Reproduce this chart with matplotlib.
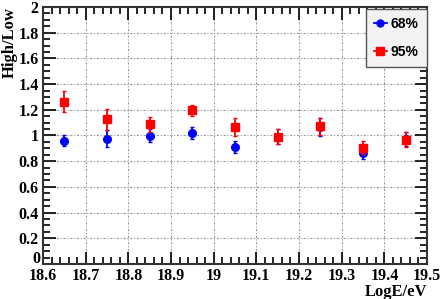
#! /usr/bin/env python3

import numpy as np
from matplotlib import pylab as plt
from matplotlib.lines import Line2D
from matplotlib.ticker import MultipleLocator, FormatStrFormatter, FuncFormatter

# energy bins (log10 E/eV)
loge = [18.65, 18.75, 18.85, 18.95, 19.05, 19.15, 19.25, 19.35, 19.45]

# ratio High/Low, 68% containment
r68 = [0.96, 0.975, 1.00, 1.02, 0.91, 0.99, 1.07, 0.865, 0.97]
e68 = [0.045, 0.065, 0.05, 0.05, 0.045, 0.06, 0.07, 0.045, 0.055]

# ratio High/Low, 95% containment
r95 = [1.263, 1.125, 1.087, 1.195, 1.063, 0.99, 1.072, 0.905, 0.968]
e95 = [0.08, 0.085, 0.06, 0.04, 0.07, 0.06, 0.065, 0.05, 0.06]

serif = {'family': 'Liberation Serif', 'weight': 'bold'}


def ylab(v, pos):
    # the "0" is drawn separately, lifted off the corner like ROOT does
    if abs(v) < 1e-9:
        return ''
    return '%g' % v


def make_plot():
    fig = plt.figure(figsize=(4.42, 2.99), dpi=100)
    fig.patch.set_facecolor('white')
    ax = fig.add_axes([43 / 442, 1 - 264 / 299, 384 / 442, 257 / 299])

    ax.errorbar(loge, r68, yerr=e68, fmt='o', color='#0000ff', ms=5.5,
                elinewidth=1.3, capsize=1.5, zorder=3)
    ax.errorbar(loge, r95, yerr=e95, fmt='s', color='#ff0000', ms=6,
                elinewidth=1.3, capsize=1.5, zorder=4)

    ax.set_xlim(18.6, 19.5)
    ax.set_ylim(0, 2)
    ax.xaxis.set_major_locator(MultipleLocator(0.1))
    ax.xaxis.set_minor_locator(MultipleLocator(0.02))
    ax.yaxis.set_major_locator(MultipleLocator(0.2))
    ax.yaxis.set_minor_locator(MultipleLocator(0.05))
    ax.xaxis.set_major_formatter(FormatStrFormatter('%g'))
    ax.yaxis.set_major_formatter(FuncFormatter(ylab))

    ax.grid(True, which='major', color='#999999',
            linestyle=(0, (2, 1.5, 1, 1.5)), linewidth=0.8)
    ax.set_axisbelow(True)

    ax.tick_params(which='both', direction='in', top=True, right=True,
                   width=1.2, pad=3)
    ax.tick_params(which='major', length=9)
    ax.tick_params(which='minor', length=5)
    for lab in ax.get_xticklabels() + ax.get_yticklabels():
        lab.set_fontfamily('Liberation Serif')
        lab.set_fontweight('bold')
        lab.set_fontsize(11.5)
    ax.annotate('0', xy=(0, 0), xycoords='axes fraction', xytext=(-2, 0.5),
                textcoords='offset points', ha='right', va='baseline',
                family='Liberation Serif', weight='bold', fontsize=11.5)
    for sp in ax.spines.values():
        sp.set_linewidth(1.5)
        sp.set_color('#333333')

    ax.set_xlabel('LogE/eV', fontdict=serif, fontsize=12, loc='right',
                  labelpad=0)
    ax.set_ylabel('High/Low', fontdict=serif, fontsize=12)
    ax.yaxis.label.set_horizontalalignment('right')
    ax.yaxis.set_label_coords(-0.066, 1.0)

    handles = [
        Line2D([], [], color='#0000ff', marker='o', ms=5, lw=1.3),
        Line2D([], [], color='#ff0000', marker='s', ms=5.5, lw=1.3),
    ]
    leg = ax.legend(handles, ['68%', '95%'], loc='upper right',
                    bbox_to_anchor=(1.0, 0.993),
                    prop={'family': 'Liberation Sans', 'weight': 'bold',
                          'size': 10},
                    fancybox=False, frameon=True, handlelength=0.9,
                    handletextpad=0.3, labelspacing=1.0, borderpad=0.6,
                    borderaxespad=0)
    leg.get_frame().set_facecolor('#f2f2f2')
    leg.get_frame().set_edgecolor('#555555')
    leg.get_frame().set_alpha(1)
    return fig


if __name__ == "__main__":
    fig = make_plot()
    fig.savefig('out.png', dpi=100)
